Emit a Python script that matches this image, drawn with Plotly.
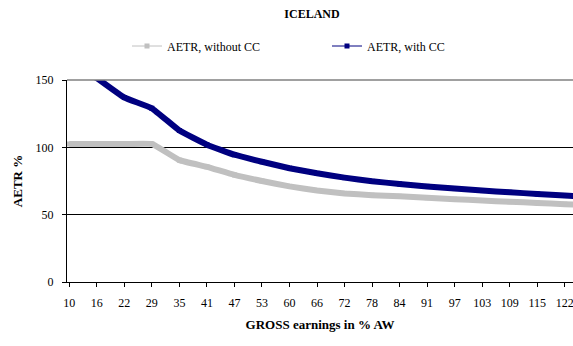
import plotly.graph_objects as go

# Gross earnings (% of average wage) shown as category labels
earnings = [10, 16, 22, 29, 35, 41, 47, 53, 60, 66, 72, 78, 84, 91, 97, 103, 109, 115, 122, 128]

# Average effective tax rate (%) without and with childcare costs
aetr_without_cc = [102.5, 102.5, 102.5, 102.5, 90.5, 85.5, 79.5, 75.0, 71.0, 68.0,
                   65.8, 64.5, 63.6, 62.6, 61.5, 60.5, 59.6, 58.7, 57.8, 56.9]
aetr_with_cc = [None, 151.5, 137.0, 129.0, 112.5, 102.0, 94.5, 89.3, 84.5, 80.7,
                77.5, 74.8, 72.8, 71.0, 69.4, 67.9, 66.6, 65.4, 64.2, 63.1]

GRAY = "#C0C0C0"
NAVY = "#000080"
FONT = "Liberation Serif"

fig = go.Figure()

# Thick data bands
fig.add_trace(go.Scatter(
    x=earnings, y=aetr_without_cc, mode="lines+markers",
    line=dict(color=GRAY, width=6, shape="spline", smoothing=0.3),
    marker=dict(symbol="square", size=5, color=GRAY),
    showlegend=False, hoverinfo="skip"))
fig.add_trace(go.Scatter(
    x=earnings, y=aetr_with_cc, mode="lines+markers",
    line=dict(color=NAVY, width=6, shape="spline", smoothing=0.3),
    marker=dict(symbol="square", size=5, color=NAVY),
    showlegend=False, hoverinfo="skip"))

# Legend entries with a thin line and a small square marker
fig.add_trace(go.Scatter(
    x=[None], y=[None], mode="lines+markers", name="AETR, without CC",
    line=dict(color=GRAY, width=1), marker=dict(symbol="square", size=5, color=GRAY)))
fig.add_trace(go.Scatter(
    x=[None], y=[None], mode="lines+markers", name="AETR, with CC",
    line=dict(color=NAVY, width=1), marker=dict(symbol="square", size=5, color=NAVY)))

fig.update_layout(
    width=573, height=346,
    margin=dict(l=67, r=0, t=80, b=64, autoexpand=False),
    paper_bgcolor="white", plot_bgcolor="white",
    font=dict(family=FONT, size=12, color="black"),
    title=dict(text="<b>ICELAND</b>", font=dict(family=FONT, size=12),
               xref="container", x=312 / 573, xanchor="center",
               yref="container", y=1 - 14 / 346, yanchor="middle"),
    legend=dict(orientation="h", xref="container", x=127 / 573, xanchor="left",
                yref="container", y=1 - 46 / 346, yanchor="middle",
                entrywidth=155, entrywidthmode="pixels", itemwidth=30,
                font=dict(family=FONT, size=12), bgcolor="rgba(0,0,0,0)"),
    xaxis=dict(
        type="category", range=[-0.083, 18.3],
        showgrid=False, showline=True, linecolor="black", linewidth=1,
        ticks="outside", ticklen=4, tickcolor="black",
        tickfont=dict(family=FONT, size=12), ticklabelstandoff=6,
        title=dict(text="<b>GROSS earnings in % AW</b>", font=dict(family=FONT, size=13),
                   standoff=10),
        zeroline=False),
    yaxis=dict(
        range=[0, 150], tickvals=[0, 50, 100, 150],
        showgrid=True, gridcolor="black", gridwidth=1,
        showline=True, linecolor="black", linewidth=1,
        ticks="outside", ticklen=4, tickcolor="black",
        tickfont=dict(family=FONT, size=12), ticklabelstandoff=6,
        title=dict(text="<b>AETR %</b>", font=dict(family=FONT, size=13), standoff=10),
        zeroline=False),
)

# Grey plot-area border along the top
fig.add_shape(type="line", xref="paper", yref="paper", x0=0, x1=1, y0=1, y1=1,
              line=dict(color="#808080", width=1.5), layer="above")

fig.write_html("out.html")
